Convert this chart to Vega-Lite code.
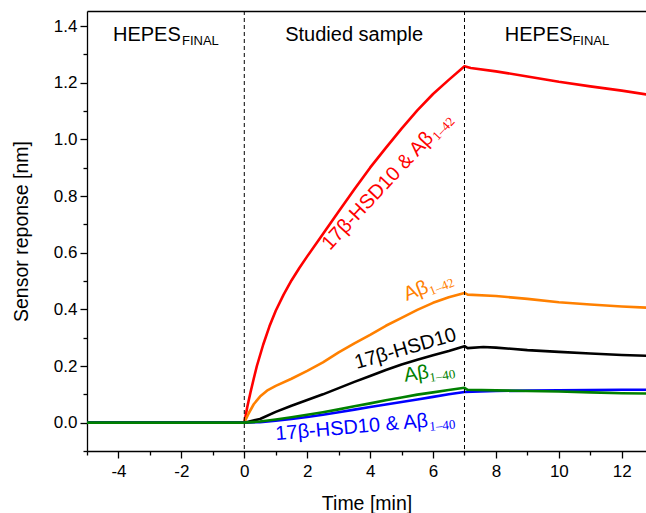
{
  "$schema": "https://vega.github.io/schema/vega-lite/v6.json",
  "width": 559,
  "height": 440,
  "autosize": "none",
  "padding": {"left": 87, "top": 11, "right": 0, "bottom": 62},
  "background": "white",
  "config": {
    "view": {"stroke": null},
    "axis": {
      "grid": false,
      "domainColor": "black",
      "tickColor": "black",
      "labelColor": "black",
      "titleColor": "black",
      "labelFont": "Liberation Sans",
      "titleFont": "Liberation Sans",
      "labelFontSize": 17,
      "titleFontSize": 19.5,
      "titleFontWeight": "normal",
      "domainWidth": 1.3,
      "tickWidth": 1.3
    }
  },
  "datasets": {
    "curves": [
      {"s": "HSD_Ab42", "t": -5, "v": 0}, {"s": "HSD_Ab42", "t": 0, "v": 0}, {"s": "HSD_Ab42", "t": 0.1, "v": 0.058}, {"s": "HSD_Ab42", "t": 0.2, "v": 0.108}, {"s": "HSD_Ab42", "t": 0.3, "v": 0.155}, {"s": "HSD_Ab42", "t": 0.4, "v": 0.2}, {"s": "HSD_Ab42", "t": 0.6, "v": 0.275}, {"s": "HSD_Ab42", "t": 0.8, "v": 0.34}, {"s": "HSD_Ab42", "t": 1.0, "v": 0.395}, {"s": "HSD_Ab42", "t": 1.25, "v": 0.452}, {"s": "HSD_Ab42", "t": 1.5, "v": 0.502}, {"s": "HSD_Ab42", "t": 1.75, "v": 0.546}, {"s": "HSD_Ab42", "t": 2.0, "v": 0.587}, {"s": "HSD_Ab42", "t": 2.5, "v": 0.666}, {"s": "HSD_Ab42", "t": 3.0, "v": 0.745}, {"s": "HSD_Ab42", "t": 3.5, "v": 0.824}, {"s": "HSD_Ab42", "t": 4.0, "v": 0.9}, {"s": "HSD_Ab42", "t": 4.5, "v": 0.97}, {"s": "HSD_Ab42", "t": 5.0, "v": 1.038}, {"s": "HSD_Ab42", "t": 5.5, "v": 1.102}, {"s": "HSD_Ab42", "t": 6.0, "v": 1.16}, {"s": "HSD_Ab42", "t": 6.5, "v": 1.21}, {"s": "HSD_Ab42", "t": 7.0, "v": 1.258}, {"s": "HSD_Ab42", "t": 7.2, "v": 1.252}, {"s": "HSD_Ab42", "t": 8, "v": 1.24}, {"s": "HSD_Ab42", "t": 9, "v": 1.222}, {"s": "HSD_Ab42", "t": 10, "v": 1.203}, {"s": "HSD_Ab42", "t": 11, "v": 1.187}, {"s": "HSD_Ab42", "t": 12, "v": 1.172}, {"s": "HSD_Ab42", "t": 12.8, "v": 1.158},
      {"s": "Ab42", "t": -5, "v": 0}, {"s": "Ab42", "t": 0, "v": 0}, {"s": "Ab42", "t": 0.05, "v": 0.012}, {"s": "Ab42", "t": 0.15, "v": 0.035}, {"s": "Ab42", "t": 0.3, "v": 0.065}, {"s": "Ab42", "t": 0.5, "v": 0.092}, {"s": "Ab42", "t": 0.75, "v": 0.115}, {"s": "Ab42", "t": 1.0, "v": 0.13}, {"s": "Ab42", "t": 1.5, "v": 0.155}, {"s": "Ab42", "t": 2.0, "v": 0.183}, {"s": "Ab42", "t": 2.5, "v": 0.213}, {"s": "Ab42", "t": 3.0, "v": 0.248}, {"s": "Ab42", "t": 3.5, "v": 0.28}, {"s": "Ab42", "t": 4.0, "v": 0.31}, {"s": "Ab42", "t": 4.5, "v": 0.342}, {"s": "Ab42", "t": 5.0, "v": 0.37}, {"s": "Ab42", "t": 5.5, "v": 0.398}, {"s": "Ab42", "t": 6.0, "v": 0.423}, {"s": "Ab42", "t": 6.5, "v": 0.443}, {"s": "Ab42", "t": 7.0, "v": 0.458}, {"s": "Ab42", "t": 7.1, "v": 0.452}, {"s": "Ab42", "t": 8, "v": 0.447}, {"s": "Ab42", "t": 9, "v": 0.437}, {"s": "Ab42", "t": 10, "v": 0.425}, {"s": "Ab42", "t": 11, "v": 0.417}, {"s": "Ab42", "t": 12, "v": 0.41}, {"s": "Ab42", "t": 12.8, "v": 0.406},
      {"s": "HSD", "t": -5, "v": 0}, {"s": "HSD", "t": 0, "v": 0}, {"s": "HSD", "t": 0.5, "v": 0.013}, {"s": "HSD", "t": 1.0, "v": 0.038}, {"s": "HSD", "t": 1.5, "v": 0.06}, {"s": "HSD", "t": 2.0, "v": 0.08}, {"s": "HSD", "t": 2.5, "v": 0.1}, {"s": "HSD", "t": 3.0, "v": 0.122}, {"s": "HSD", "t": 3.5, "v": 0.144}, {"s": "HSD", "t": 4.0, "v": 0.165}, {"s": "HSD", "t": 4.5, "v": 0.186}, {"s": "HSD", "t": 5.0, "v": 0.205}, {"s": "HSD", "t": 5.5, "v": 0.222}, {"s": "HSD", "t": 6.0, "v": 0.238}, {"s": "HSD", "t": 6.5, "v": 0.253}, {"s": "HSD", "t": 7.0, "v": 0.27}, {"s": "HSD", "t": 7.1, "v": 0.263}, {"s": "HSD", "t": 7.6, "v": 0.267}, {"s": "HSD", "t": 8, "v": 0.265}, {"s": "HSD", "t": 9, "v": 0.256}, {"s": "HSD", "t": 10, "v": 0.25}, {"s": "HSD", "t": 11, "v": 0.244}, {"s": "HSD", "t": 12, "v": 0.239}, {"s": "HSD", "t": 12.8, "v": 0.236},
      {"s": "HSD_Ab40", "t": -5, "v": 0}, {"s": "HSD_Ab40", "t": 0, "v": 0}, {"s": "HSD_Ab40", "t": 0.5, "v": 0.002}, {"s": "HSD_Ab40", "t": 1, "v": 0.007}, {"s": "HSD_Ab40", "t": 1.5, "v": 0.013}, {"s": "HSD_Ab40", "t": 2, "v": 0.02}, {"s": "HSD_Ab40", "t": 2.5, "v": 0.028}, {"s": "HSD_Ab40", "t": 3, "v": 0.037}, {"s": "HSD_Ab40", "t": 3.5, "v": 0.046}, {"s": "HSD_Ab40", "t": 4, "v": 0.055}, {"s": "HSD_Ab40", "t": 4.5, "v": 0.064}, {"s": "HSD_Ab40", "t": 5, "v": 0.073}, {"s": "HSD_Ab40", "t": 5.5, "v": 0.082}, {"s": "HSD_Ab40", "t": 6, "v": 0.091}, {"s": "HSD_Ab40", "t": 6.5, "v": 0.1}, {"s": "HSD_Ab40", "t": 7, "v": 0.108}, {"s": "HSD_Ab40", "t": 8, "v": 0.112}, {"s": "HSD_Ab40", "t": 9, "v": 0.113}, {"s": "HSD_Ab40", "t": 10, "v": 0.114}, {"s": "HSD_Ab40", "t": 11, "v": 0.115}, {"s": "HSD_Ab40", "t": 12, "v": 0.116}, {"s": "HSD_Ab40", "t": 12.8, "v": 0.116},
      {"s": "Ab40", "t": -5, "v": 0}, {"s": "Ab40", "t": 0, "v": 0}, {"s": "Ab40", "t": 0.5, "v": 0.004}, {"s": "Ab40", "t": 1, "v": 0.011}, {"s": "Ab40", "t": 1.5, "v": 0.019}, {"s": "Ab40", "t": 2, "v": 0.028}, {"s": "Ab40", "t": 2.5, "v": 0.037}, {"s": "Ab40", "t": 3, "v": 0.047}, {"s": "Ab40", "t": 3.5, "v": 0.058}, {"s": "Ab40", "t": 4, "v": 0.068}, {"s": "Ab40", "t": 4.5, "v": 0.079}, {"s": "Ab40", "t": 5, "v": 0.089}, {"s": "Ab40", "t": 5.5, "v": 0.099}, {"s": "Ab40", "t": 6, "v": 0.107}, {"s": "Ab40", "t": 6.5, "v": 0.115}, {"s": "Ab40", "t": 7, "v": 0.123}, {"s": "Ab40", "t": 7.1, "v": 0.116}, {"s": "Ab40", "t": 8, "v": 0.114}, {"s": "Ab40", "t": 9, "v": 0.112}, {"s": "Ab40", "t": 10, "v": 0.11}, {"s": "Ab40", "t": 11, "v": 0.107}, {"s": "Ab40", "t": 12, "v": 0.104}, {"s": "Ab40", "t": 12.8, "v": 0.103}
    ],
    "labels": [
      {"id": "head", "t": -4.175, "v": 1.348, "text": "HEPES"},
      {"id": "head", "t": 1.3, "v": 1.348, "text": "Studied sample"},
      {"id": "head", "t": 8.28, "v": 1.348, "text": "HEPES"},
      {"id": "headsub", "t": -1.98, "v": 1.332, "text": "FINAL"},
      {"id": "headsub", "t": 10.43, "v": 1.332, "text": "FINAL"},
      {"id": "red", "t": 2.725, "v": 0.606, "text": "17β-HSD10 & Aβ"},
      {"id": "redsub", "t": 6.15, "v": 0.994, "text": "1–42"},
      {"id": "orange", "t": 5.164, "v": 0.429, "text": "Aβ"},
      {"id": "orangesub", "t": 5.94, "v": 0.449, "text": "1–42"},
      {"id": "black", "t": 3.574, "v": 0.189, "text": "17β-HSD10"},
      {"id": "green", "t": 5.11, "v": 0.144, "text": "Aβ"},
      {"id": "greensub", "t": 5.908, "v": 0.1438, "text": "1–40"},
      {"id": "blue", "t": 1.008, "v": -0.0618, "text": "17β-HSD10 & Aβ"},
      {"id": "bluesub", "t": 5.897, "v": -0.0286, "text": "1–40"}
    ]
  },
  "resolve": {"axis": {"x": "independent", "y": "independent"}},
  "layer": [
    {
      "data": {"name": "curves"},
      "mark": {"type": "line", "strokeWidth": 2.6, "strokeJoin": "round"},
      "encoding": {
        "x": {"field": "t", "type": "quantitative", "scale": {"domain": [-5, 12.77], "nice": false, "zero": false},
          "axis": {"orient": "bottom", "values": [-4, -2, 0, 2, 4, 6, 8, 10, 12], "tickSize": 7, "labelPadding": 5, "labelExpr": "datum.value < 0 ? '-' + abs(datum.value) : '' + datum.value", "title": "Time [min]", "titlePadding": 15}},
        "y": {"field": "v", "type": "quantitative", "scale": {"domain": [-0.1, 1.453], "nice": false, "zero": false},
          "axis": {"orient": "left", "values": [0, 0.2, 0.4, 0.6, 0.8, 1.0, 1.2, 1.4], "format": ".1f", "tickSize": 7, "labelPadding": 3, "title": "Sensor reponse [nm]", "titlePadding": 22}},
        "color": {"field": "s", "type": "nominal", "scale": {"domain": ["HSD_Ab42", "Ab42", "HSD", "HSD_Ab40", "Ab40"], "range": ["#ff0000", "#ff8000", "#000000", "#0000ff", "#008000"]}, "legend": null}
      }
    },
    {
      "data": {"values": [{"t": 0}, {"t": 7}]},
      "mark": {"type": "rule", "strokeDash": [4, 3], "strokeWidth": 1, "color": "black"},
      "encoding": {
        "x": {"field": "t", "type": "quantitative", "scale": {"domain": [-5, 12.77], "nice": false, "zero": false},
          "axis": {"orient": "top", "ticks": false, "labels": false, "domain": true, "title": null}}
      }
    },
    {
      "data": {"name": "labels"},
      "transform": [{"filter": "datum.id === 'head'"}],
      "mark": {"type": "text", "font": "Liberation Sans", "fontSize": 20, "align": "left", "baseline": "alphabetic", "color": "black"},
      "encoding": {
        "x": {"field": "t", "type": "quantitative", "scale": {"domain": [-5, 12.77], "nice": false, "zero": false},
          "axis": {"orient": "bottom", "values": [-5, -3, -1, 1, 3, 5, 7, 9, 11], "tickSize": 4, "labels": false, "domain": false, "title": null}},
        "y": {"field": "v", "type": "quantitative", "scale": {"domain": [-0.1, 1.453], "nice": false, "zero": false},
          "axis": {"orient": "left", "values": [-0.1, 0.1, 0.3, 0.5, 0.7, 0.9, 1.1, 1.3], "tickSize": 4, "labels": false, "domain": false, "title": null}},
        "text": {"field": "text"}
      }
    },
    {
      "data": {"name": "labels"},
      "transform": [{"filter": "datum.id === 'headsub'"}],
      "mark": {"type": "text", "font": "Liberation Sans", "fontSize": 13, "align": "left", "baseline": "alphabetic", "color": "black"},
      "encoding": {
        "x": {"field": "t", "type": "quantitative", "scale": {"domain": [-5, 12.77], "nice": false, "zero": false}, "axis": null},
        "y": {"field": "v", "type": "quantitative", "scale": {"domain": [-0.1, 1.453], "nice": false, "zero": false}, "axis": null},
        "text": {"field": "text"}
      }
    },
    {
      "data": {"name": "labels"},
      "transform": [{"filter": "datum.id === 'red'"}],
      "mark": {"type": "text", "font": "Liberation Sans", "fontSize": 20, "align": "left", "baseline": "alphabetic", "angle": -47, "color": "#ff0000"},
      "encoding": {
        "x": {"field": "t", "type": "quantitative", "scale": {"domain": [-5, 12.77], "nice": false, "zero": false}, "axis": null},
        "y": {"field": "v", "type": "quantitative", "scale": {"domain": [-0.1, 1.453], "nice": false, "zero": false}, "axis": null},
        "text": {"field": "text"}
      }
    },
    {
      "data": {"name": "labels"},
      "transform": [{"filter": "datum.id === 'redsub'"}],
      "mark": {"type": "text", "font": "Liberation Serif", "fontSize": 13, "align": "left", "baseline": "alphabetic", "angle": -47, "color": "#ff0000"},
      "encoding": {
        "x": {"field": "t", "type": "quantitative", "scale": {"domain": [-5, 12.77], "nice": false, "zero": false}, "axis": null},
        "y": {"field": "v", "type": "quantitative", "scale": {"domain": [-0.1, 1.453], "nice": false, "zero": false}, "axis": null},
        "text": {"field": "text"}
      }
    },
    {
      "data": {"name": "labels"},
      "transform": [{"filter": "datum.id === 'orange'"}],
      "mark": {"type": "text", "font": "Liberation Sans", "fontSize": 20, "align": "left", "baseline": "alphabetic", "angle": -22, "color": "#ff8000"},
      "encoding": {
        "x": {"field": "t", "type": "quantitative", "scale": {"domain": [-5, 12.77], "nice": false, "zero": false}, "axis": null},
        "y": {"field": "v", "type": "quantitative", "scale": {"domain": [-0.1, 1.453], "nice": false, "zero": false}, "axis": null},
        "text": {"field": "text"}
      }
    },
    {
      "data": {"name": "labels"},
      "transform": [{"filter": "datum.id === 'orangesub'"}],
      "mark": {"type": "text", "font": "Liberation Serif", "fontSize": 13, "align": "left", "baseline": "alphabetic", "angle": -22, "color": "#ff8000"},
      "encoding": {
        "x": {"field": "t", "type": "quantitative", "scale": {"domain": [-5, 12.77], "nice": false, "zero": false}, "axis": null},
        "y": {"field": "v", "type": "quantitative", "scale": {"domain": [-0.1, 1.453], "nice": false, "zero": false}, "axis": null},
        "text": {"field": "text"}
      }
    },
    {
      "data": {"name": "labels"},
      "transform": [{"filter": "datum.id === 'black'"}],
      "mark": {"type": "text", "font": "Liberation Sans", "fontSize": 20, "align": "left", "baseline": "alphabetic", "angle": -16, "color": "#000000"},
      "encoding": {
        "x": {"field": "t", "type": "quantitative", "scale": {"domain": [-5, 12.77], "nice": false, "zero": false}, "axis": null},
        "y": {"field": "v", "type": "quantitative", "scale": {"domain": [-0.1, 1.453], "nice": false, "zero": false}, "axis": null},
        "text": {"field": "text"}
      }
    },
    {
      "data": {"name": "labels"},
      "transform": [{"filter": "datum.id === 'green'"}],
      "mark": {"type": "text", "font": "Liberation Sans", "fontSize": 20, "align": "left", "baseline": "alphabetic", "angle": -9, "color": "#008000"},
      "encoding": {
        "x": {"field": "t", "type": "quantitative", "scale": {"domain": [-5, 12.77], "nice": false, "zero": false}, "axis": null},
        "y": {"field": "v", "type": "quantitative", "scale": {"domain": [-0.1, 1.453], "nice": false, "zero": false}, "axis": null},
        "text": {"field": "text"}
      }
    },
    {
      "data": {"name": "labels"},
      "transform": [{"filter": "datum.id === 'greensub'"}],
      "mark": {"type": "text", "font": "Liberation Serif", "fontSize": 13, "align": "left", "baseline": "alphabetic", "angle": -9, "color": "#008000"},
      "encoding": {
        "x": {"field": "t", "type": "quantitative", "scale": {"domain": [-5, 12.77], "nice": false, "zero": false}, "axis": null},
        "y": {"field": "v", "type": "quantitative", "scale": {"domain": [-0.1, 1.453], "nice": false, "zero": false}, "axis": null},
        "text": {"field": "text"}
      }
    },
    {
      "data": {"name": "labels"},
      "transform": [{"filter": "datum.id === 'blue'"}],
      "mark": {"type": "text", "font": "Liberation Sans", "fontSize": 20, "align": "left", "baseline": "alphabetic", "angle": -5, "color": "#0000ff"},
      "encoding": {
        "x": {"field": "t", "type": "quantitative", "scale": {"domain": [-5, 12.77], "nice": false, "zero": false}, "axis": null},
        "y": {"field": "v", "type": "quantitative", "scale": {"domain": [-0.1, 1.453], "nice": false, "zero": false}, "axis": null},
        "text": {"field": "text"}
      }
    },
    {
      "data": {"name": "labels"},
      "transform": [{"filter": "datum.id === 'bluesub'"}],
      "mark": {"type": "text", "font": "Liberation Serif", "fontSize": 13, "align": "left", "baseline": "alphabetic", "angle": -5, "color": "#0000ff"},
      "encoding": {
        "x": {"field": "t", "type": "quantitative", "scale": {"domain": [-5, 12.77], "nice": false, "zero": false}, "axis": null},
        "y": {"field": "v", "type": "quantitative", "scale": {"domain": [-0.1, 1.453], "nice": false, "zero": false}, "axis": null},
        "text": {"field": "text"}
      }
    }
  ]
}
